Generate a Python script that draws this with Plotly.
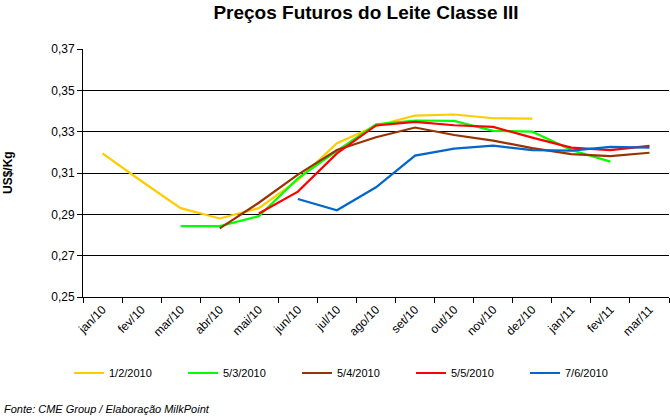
import plotly.graph_objects as go

months = ["jan/10", "fev/10", "mar/10", "abr/10", "mai/10", "jun/10", "jul/10", "ago/10",
          "set/10", "out/10", "nov/10", "dez/10", "jan/11", "fev/11", "mar/11"]

s_0102 = [0.3195, 0.306, 0.293, 0.288, 0.293, 0.3066, 0.3244, 0.3328, 0.3378, 0.3383, 0.3365, 0.3363, None, None, None]
s_0503 = [None, None, 0.2843, 0.2843, 0.2891, 0.3074, 0.3207, 0.3336, 0.3354, 0.3352, 0.3304, 0.3300, 0.3211, 0.3155, None]
s_0504 = [None, None, None, 0.2832, 0.2956, 0.3092, 0.3211, 0.3273, 0.3320, 0.3284, 0.3257, 0.3220, 0.3191, 0.3182, 0.3198]
s_0505 = [None, None, None, None, 0.2904, 0.3010, 0.3195, 0.3330, 0.3347, 0.3331, 0.3323, 0.3271, 0.3223, 0.3211, 0.3231]
s_0706 = [None, None, None, None, None, 0.2974, 0.2920, 0.3031, 0.3184, 0.3218, 0.3232, 0.3211, 0.3208, 0.3226, 0.3223]

series_names = ["1/2/2010", "5/3/2010", "5/4/2010", "5/5/2010", "7/6/2010"]
series_vals = [s_0102, s_0503, s_0504, s_0505, s_0706]
colors = ["#FFCC00", "#00FF00", "#993300", "#FF0000", "#0066CC"]

FONT = "Liberation Sans, Arial, sans-serif"

fig = go.Figure()
for name, vals, col in zip(series_names, series_vals, colors):
    fig.add_trace(go.Scatter(x=months, y=vals, name=name, mode="lines",
                             line=dict(color=col, width=2.2), connectgaps=False))

fig.update_layout(
    width=670, height=417,
    margin=dict(l=83, r=1, t=49, b=120, autoexpand=False),
    paper_bgcolor="white", plot_bgcolor="white",
    separators=",.",
    font=dict(family=FONT, color="black", size=11),
    title=dict(text="<b>Preços Futuros do Leite Classe III</b>",
               font=dict(family=FONT, size=19, color="black"),
               x=366/670, xref="container", xanchor="center",
               y=1 - 12/417, yref="container", yanchor="middle"),
    xaxis=dict(type="category", categoryorder="array", categoryarray=months,
               range=[-0.5, 14.5], tickson="boundaries", ticks="outside", ticklen=5,
               tickcolor="black", showline=True, linecolor="black", linewidth=1,
               showgrid=False, tickangle=-45, tickfont=dict(family=FONT, size=12),
               automargin=False, fixedrange=True),
    yaxis=dict(range=[0.25, 0.37], dtick=0.02, tick0=0.25, tickformat=".2f",
               ticks="outside", ticklen=5, tickcolor="black",
               showline=True, linecolor="black", linewidth=1,
               showgrid=True, gridcolor="black", gridwidth=1, zeroline=False,
               tickfont=dict(family=FONT, size=12), automargin=False),
    showlegend=True,
    legend=dict(orientation="h", xref="container", yref="container",
                x=69/670, xanchor="left", y=1 - 373/417, yanchor="middle",
                font=dict(family=FONT, size=11), entrywidth=69, entrywidthmode="pixels",
                bgcolor="rgba(0,0,0,0)", tracegroupgap=0),
    annotations=[
        dict(text="<b>US$/Kg</b>", xref="paper", yref="paper", x=-(83 - 8) / 586, y=0.5,
             xanchor="center", yanchor="middle", textangle=-90, showarrow=False,
             font=dict(family=FONT, size=12, color="black")),
        dict(text="<i>Fonte: CME Group / Elaboração MilkPoint</i>", xref="paper", yref="paper",
             x=-(83 - 2) / 586, y=-(409 - 297) / 248, xanchor="left", yanchor="middle",
             showarrow=False, font=dict(family=FONT, size=11, color="black")),
    ],
)

fig.write_html("out.html",
               config={"displayModeBar": False, "staticPlot": True},
               post_script="document.body.style.margin='0';document.body.style.overflow='hidden';")
